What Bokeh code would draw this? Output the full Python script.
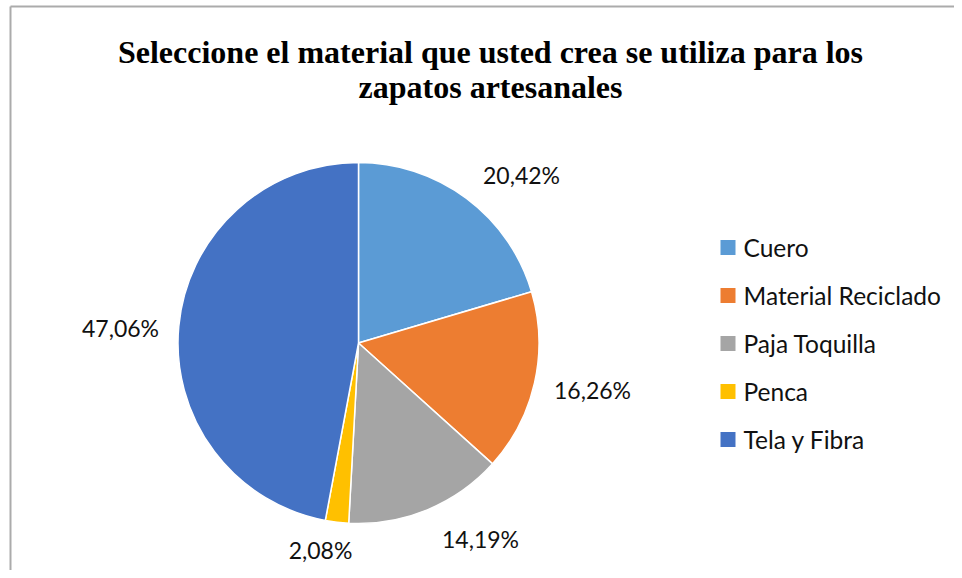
import math
from bokeh.plotting import figure
from bokeh.models import Range1d, ColumnDataSource
from bokeh.core.properties import value
from bokeh.embed import file_html
from bokeh.resources import INLINE

# ---- data ----
categories = ["Cuero", "Material Reciclado", "Paja Toquilla", "Penca", "Tela y Fibra"]
percentages = [20.42, 16.26, 14.19, 2.08, 47.06]
colors = ["#5B9BD5", "#ED7D31", "#A5A5A5", "#FFC000", "#4472C4"]
title_lines = ["Seleccione el material que usted crea se utiliza para los", "zapatos artesanales"]

# ---- layout (pixel space: x = screen_x, y = 570 - screen_y) ----
W, H = 954, 570
cx, cy, r = 358, 227.5, 180.5
label_pos = [(521, 396), (592, 181), (480, 32), (320, 21), (120, 243)]
legend_x, legend_y0, legend_step = 727.5, 323, -48
text_x = 743

total = sum(percentages)
starts, ends = [], []
acc = 0.0
for v in percentages:
    frac0 = acc / total
    acc += v
    frac1 = acc / total
    ends.append(math.pi / 2 - frac0 * 2 * math.pi)
    starts.append(math.pi / 2 - frac1 * 2 * math.pi)

labels = [f"{v:.2f}".replace(".", ",") + "%" for v in percentages]

src = ColumnDataSource(dict(
    cat=categories, val=percentages, color=colors,
    start=starts, end=ends,
    lx=[p[0] for p in label_pos], ly=[p[1] for p in label_pos], label=labels,
    gx=[legend_x] * len(categories),
    gy=[legend_y0 + i * legend_step for i in range(len(categories))],
    tx=[text_x] * len(categories),
))

p = figure(width=W, height=H, x_range=Range1d(0, W), y_range=Range1d(0, H),
           output_backend="svg", toolbar_location=None, min_border=0)
p.axis.visible = False
p.grid.visible = False
p.outline_line_color = None
p.background_fill_color = "white"

# chart border (left and top edges visible)
p.segment(x0=[10, 10], y0=[0, 564], x1=[10, W], y1=[564, 564],
          line_color="#ABABAB", line_width=2)

p.wedge(x=cx, y=cy, radius=r, start_angle="start", end_angle="end",
        fill_color="color", line_color="white", line_width=1.5, source=src)

p.text(x="lx", y="ly", text="label", source=src, text_align="center",
       text_baseline="middle", text_font=value("Lato"), text_font_size="23px",
       text_color="#111111")

p.scatter(x="gx", y="gy", marker="square", size=15, fill_color="color",
          line_color=None, source=src)
p.text(x="tx", y="gy", text="cat", source=src, text_align="left",
       text_baseline="middle", text_font=value("Lato"), text_font_size="24.5px",
       text_color="#111111")

p.text(x=[490, 490], y=[519, 484], text=title_lines, text_align="center",
       text_baseline="middle", text_font=value("Liberation Serif"),
       text_font_style="bold", text_font_size="32px", text_color="black")

open("out.html", "w").write(file_html(p, INLINE))
